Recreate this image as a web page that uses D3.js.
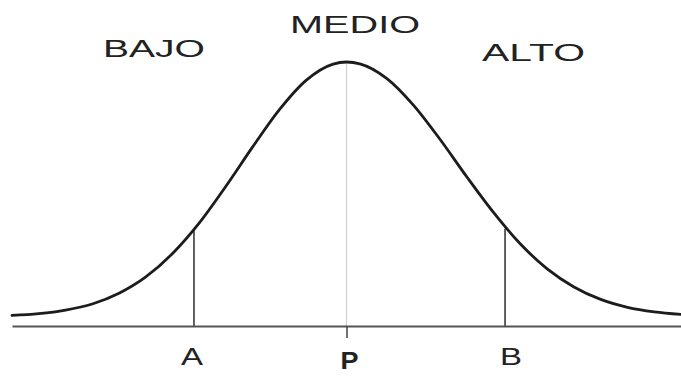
<!DOCTYPE html>
<html>
<head>
<meta charset="utf-8">
<script src="https://cdn.jsdelivr.net/npm/d3@7"></script>
<style>
  html, body { margin: 0; padding: 0; background: #fff; }
  svg { display: block; }
  text { font-family: "Liberation Sans", Arial, sans-serif; fill: #222; }
</style>
</head>
<body>
<svg id="chart" width="681" height="376"></svg>
<script>
// ---- data ----
// horizontal position of the score (0..100, P = 50) and relative curve height (peak = 100)
const curveX = [0, 4, 8, 12, 16, 20, 24, 28, 32, 36, 40, 44, 48, 50,
                52, 56, 60, 64, 68, 72, 76, 80, 84, 88, 92, 96, 100];
const curveY = [0.6, 1.3, 2.7, 5.1, 9.3, 15.7, 24.9, 36.9, 51.4, 66.8, 81.4, 92.9, 99.2, 100,
                99.3, 93.6, 83.1, 69.6, 54.9, 40.9, 28.6, 18.9, 11.8, 6.9, 3.8, 2.0, 1.0];
const markerLabels = ["A", "P", "B"];
const markerValues = [27.2, 50, 73.7];
const markerHeights = [34.3, 100, 34.6];
const zoneLabels = ["BAJO", "MEDIO", "ALTO"];

// ---- drawing ----
const svg = d3.select("#chart");
const x = d3.scaleLinear().domain([0, 100]).range([12, 681]);
const y = d3.scaleLinear().domain([0, 100]).range([317, 62]);
const baseY = 326;

const points = curveX.map((v, i) => [v, curveY[i]]);

// center (P) light line from peak to baseline
svg.append("line")
  .attr("x1", x(markerValues[1])).attr("x2", x(markerValues[1]))
  .attr("y1", y(markerHeights[1])).attr("y2", baseY)
  .attr("stroke", "#cfcfd4").attr("stroke-width", 1.2);

// A and B vertical lines
[0, 2].forEach(i => {
  svg.append("line")
    .attr("x1", x(markerValues[i])).attr("x2", x(markerValues[i]))
    .attr("y1", y(markerHeights[i])).attr("y2", baseY)
    .attr("stroke", "#3a3a3a").attr("stroke-width", 1.6);
});

// baseline axis with a single tick at P
const axis = d3.axisBottom(x)
  .tickValues([markerValues[1]])
  .tickSize(12)
  .tickSizeOuter(0)
  .tickFormat("");
const g = svg.append("g").attr("transform", `translate(0,${baseY})`).call(axis);
g.select(".domain").attr("stroke", "#555").attr("stroke-width", 2);
g.selectAll(".tick line").attr("stroke", "#444").attr("stroke-width", 1.5);

// bell curve
svg.append("path")
  .datum(points)
  .attr("fill", "none")
  .attr("stroke", "#1c1c1c")
  .attr("stroke-width", 2.8)
  .attr("stroke-linecap", "round")
  .attr("d", d3.line().x(d => x(d[0])).y(d => y(d[1])).curve(d3.curveMonotoneX));

// zone labels
const zoneLayout = [
  { left: 103, base: 57, w: 102 },
  { left: 290, base: 33, w: 130 },
  { left: 482, base: 61, w: 103 }
];
zoneLabels.forEach((t, i) => {
  svg.append("text")
    .attr("x", zoneLayout[i].left).attr("y", zoneLayout[i].base)
    .attr("font-size", 24)
    .attr("textLength", zoneLayout[i].w)
    .attr("lengthAdjust", "spacingAndGlyphs")
    .text(t);
});

// marker labels
const markLayout = [
  { dx: -13, base: 365, w: 22, bold: false, size: 24 },
  { dx: -6, base: 369, w: 18, bold: true, size: 23 },
  { dx: -5, base: 365, w: 22, bold: false, size: 24 }
];
markerLabels.forEach((t, i) => {
  svg.append("text")
    .attr("x", x(markerValues[i]) + markLayout[i].dx)
    .attr("y", markLayout[i].base)
    .attr("font-size", markLayout[i].size)
    .attr("font-weight", markLayout[i].bold ? "bold" : "normal")
    .attr("fill", markLayout[i].bold ? "#111" : "#222")
    .attr("textLength", markLayout[i].w)
    .attr("lengthAdjust", "spacingAndGlyphs")
    .text(t);
});
</script>
</body>
</html>
